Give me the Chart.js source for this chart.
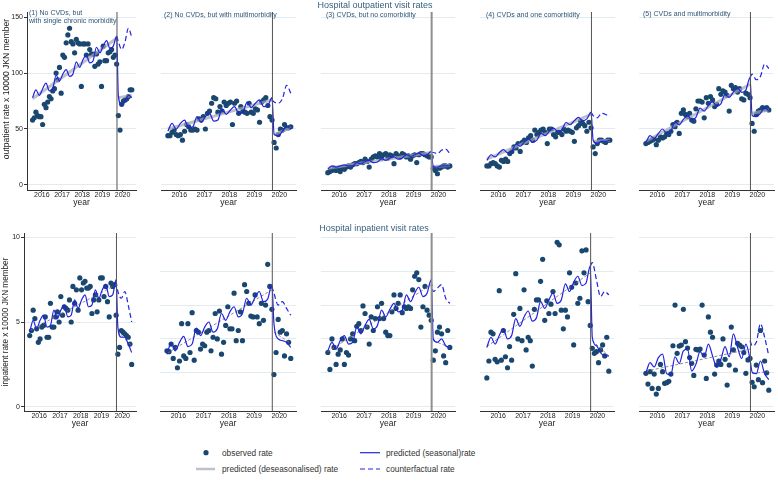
<!DOCTYPE html>
<html><head><meta charset="utf-8">
<script src="https://cdn.jsdelivr.net/npm/chart.js@4"></script>
<style>
body{margin:0;width:778px;height:483px;background:#fff;position:relative;overflow:hidden;font-family:"Liberation Sans",Arial,sans-serif}
canvas{position:absolute}
.t{position:absolute;white-space:nowrap;line-height:1}
svg{position:absolute}
</style></head><body>
<script>
// ---------------- DATA ----------------
const yearTicks = ['2016','2017','2018','2019','2020'];
const outTicks = [0,50,100,150];
const inTicksLabeled = [0,5,10];
const inGrid = [0,2,4,6,8,10];
const seasMonths = [0,2,4,6,8,10,12,14,16,18,20,22,24,26,28,30,32,34,36,38,40,42,44,46,48,50,51,53,55,57,59];
const cfMonths = [50,51,53,55,57,59];
const trendMonths = [0,50,51,59];
const breakMonth = 50.2;

// Outpatient (1) No CVDs, single chronic morbidity
const out1Obs = [58,60,65,62,61,61,54,72,69,74,79,77,84,86,100,94,105,82,116,114,127,134,140,128,126,118,130,127,126,88,126,126,116,126,121,117,117,106,117,108,110,88,124,111,111,118,119,121,114,116,108,62,49,72,75,76,77,79,85,85];
const out1Seas = [78,85,80,86,91,84,86,98,93,99,103,97,99,110,105,112,116,109,111,123,118,124,129,122,124,133,80,71,75,80,78];
const out1Cf = [133,128,121,128,140,132];
const out1Trend = [77,131,78,80];
// Outpatient (2) No CVDs, multimorbidity
const out2Obs = [44,44,47,49,45,44,45,40,48,54,52,49,49,50,49,59,58,61,50,64,66,73,78,77,65,70,66,74,71,73,74,54,73,75,64,70,66,65,64,73,65,64,68,67,56,74,76,78,71,61,58,38,33,45,50,49,54,51,51,52];
const out2Seas = [48,55,50,55,58,51,52,61,56,61,64,57,58,68,63,67,70,64,65,74,69,73,76,70,71,78,45,44,48,52,50];
const out2Cf = [76,74,73,77,89,82];
const out2Trend = [50,76,45,51];
// Outpatient (3) CVDs, no comorbidity
const out3Obs = [11,12,13,15,13,14,12,15,14,16,17,16,18,19,19,20,21,20,23,21,16,23,25,26,25,28,24,27,28,24,27,26,19,28,26,25,28,27,25,26,23,26,27,20,27,28,28,27,26,25,25,15,13,10,15,16,17,17,16,17];
const out3Seas = [14,17,16,17,18,17,17,20,19,21,22,20,20.5,23.5,22,24,25,23,24,27,25.5,27,28.5,26.5,27,30,16,16,17,17,17];
const out3Cf = [29,29,28,31,32,28];
const out3Trend = [15,29,16.5,17.4];
// Outpatient (4) CVDs and one comorbidity
const out4Obs = [17,17,19,20,19,17,16,22,21,23,21,28,30,34,33,37,30,38,40,38,42,44,40,49,45,47,49,50,47,37,50,50,45,43,47,47,45,50,48,49,48,47,39,51,53,57,55,53,48,56,51,34,28,37,40,40,39,38,40,40];
const out4Seas = [22,27,25,29,31.5,28.6,30,36.6,34.6,38.3,41,38,40,46,44,48,50.7,47.8,49.4,55.8,53.8,57.5,60.3,57.4,59,65,40,37,39,39,40];
const out4Cf = [65,62,60,64,63,61];
const out4Trend = [23,63,39,40];
// Outpatient (5) CVDs and multimorbidity
const out5Obs = [37,38,39,40,41,36,40,43,42,43,46,45,48,54,52,56,46,64,67,63,61,64,58,57,68,75,75,74,60,78,73,79,76,70,72,86,81,84,83,80,66,89,86,87,83,86,77,76,82,81,78,55,48,63,66,67,69,68,69,67];
const out5Seas = [38,44,41.5,46,50,46,48,56.5,53.7,58.6,62.2,58.2,60.3,68.7,66,70.8,74.4,70.5,72.5,81,78.2,83,86.7,82.7,84.8,96,62,61,64,69,66];
const out5Cf = [96,99,94,97,108,104];
const out5Trend = [39,90,64,67];

// Inpatient (1)
const in1Obs = [4.2,4.5,5.7,5.2,4.6,3.8,4.0,4.7,4.8,5.3,4.1,4.1,6.1,4.7,4.7,5.3,5.6,5.0,6.5,5.4,5.9,5.8,5.7,6.3,5.0,7.1,6.1,6.9,5.7,7.6,6.9,7.3,7.4,7.0,7.0,7.1,5.5,6.3,6.6,5.6,6.3,7.6,7.6,6.5,7.1,6.2,5.3,7.3,7.1,7.2,5.4,3.1,3.5,4.5,4.4,4.3,4.2,4.1,3.7,2.5];
const in1Seas = [4.4,5.1,4.6,5.1,5.4,4.7,4.8,5.7,5.2,5.7,6.0,5.3,5.4,6.3,5.8,6.3,6.6,5.9,6.0,6.9,6.4,6.9,7.2,6.5,6.6,7.5,4.7,4.1,4.1,3.7,3.2];
const in1Cf = [7.4,6.8,6.4,6.8,6.0,5.0];
const in1Trend = [4.5,7.2,4.4,3.6];
// Inpatient (2)
const in2Obs = [3.3,3.25,3.7,2.85,3.5,2.3,2.7,4.9,3.0,2.85,4.9,3.2,5.55,2.75,4.5,4.4,3.4,3.7,3.6,4.4,4.5,3.3,4.1,5.5,4.0,5.65,3.1,3.8,4.8,5.9,4.6,4.6,6.7,3.9,4.5,5.6,3.9,7.2,6.8,6.1,5.35,5.3,6.6,5.3,4.9,6.1,5.1,6.0,8.4,7.1,5.75,1.9,3.2,5.15,4.4,4.5,3.0,4.3,3.8,2.85];
const in2Seas = [3.1,3.75,3.3,3.8,4.15,3.55,3.7,4.64,4.2,4.7,5.0,4.4,4.6,5.5,5.1,5.6,5.9,5.3,5.5,6.4,6.0,6.45,6.8,6.2,6.35,7.2,4.9,4.0,3.9,3.8,3.5];
const in2Cf = [7.1,6.7,6.0,6.2,5.8,5.4];
const in2Trend = [3.15,6.9,4.4,3.75];
// Inpatient (3)
const in3Obs = [3.2,2.2,4.0,3.5,2.5,3.1,3.35,4.0,2.5,3.2,3.05,4.0,4.3,3.9,4.75,4.9,4.5,5.95,5.5,4.7,3.7,5.3,4.5,5.2,5.9,5.2,6.1,5.2,4.4,4.2,4.2,5.6,6.6,5.8,6.1,6.6,5.55,5.9,5.8,5.9,5.8,6.9,7.7,7.9,7.5,4.7,5.9,7.1,5.7,5.4,5.1,2.75,3.3,4.4,4.7,4.3,3.0,2.6,4.5,3.5];
const in3Seas = [3.3,3.8,3.4,3.9,4.2,3.7,3.8,4.7,4.3,4.8,5.15,4.6,4.8,5.7,5.3,5.75,6.1,5.6,5.7,6.6,6.2,6.7,7.05,6.5,6.7,7.5,4.0,3.8,4.0,3.6,3.5];
const in3Cf = [7.4,6.8,7.0,7.2,6.4,6.1];
const in3Trend = [3.25,7.2,3.9,3.5];
// Inpatient (4)
const in4Obs = [1.7,2.7,4.4,4.3,2.8,2.65,6.85,2.75,4.5,2.95,2.3,3.55,2.75,5.45,7.85,4.0,5.8,3.9,6.9,3.35,4.1,3.9,2.4,5.75,6.3,6.3,7.4,8.7,5.1,6.25,5.5,6.05,6.8,5.5,9.7,9.55,5.7,4.6,5.7,5.3,7.9,7.05,3.65,7.3,6.1,6.4,9.2,7.9,9.25,6.2,4.8,3.45,3.15,3.25,2.6,3.35,3.65,3.0,4.1,2.1];
const in4Seas = [3.5,4.1,3.7,4.2,4.6,4.0,4.2,5.2,4.75,5.3,5.65,5.05,5.25,6.2,5.8,6.3,6.7,6.1,6.3,7.25,6.8,7.35,7.7,7.15,7.3,8.3,4.1,3.6,3.2,3.0,3.0];
const in4Cf = [8.3,8.5,7.5,6.5,6.8,6.6];
const in4Trend = [3.55,7.9,3.9,3.0];
// Inpatient (5)
const in5Obs = [1.97,1.34,2.07,1.08,1.93,0.75,1.08,2.5,2.07,1.38,1.42,1.5,1.93,3.6,6.0,3.15,3.58,3.64,5.75,3.84,3.46,2.9,2.56,1.85,3.39,3.35,3.4,6.0,3.05,1.67,5.3,4.4,4.1,1.93,2.46,2.7,2.5,4.0,2.8,1.28,2.46,4.7,3.35,2.17,3.74,3.64,3.54,3.2,1.97,2.76,2.85,1.44,1.18,2.46,1.6,4.5,1.42,2.7,2.0,0.98];
const in5Seas = [2.0,2.6,2.35,2.9,3.1,1.95,1.9,2.95,2.55,3.3,3.4,2.1,2.5,3.25,2.95,3.7,3.0,2.35,2.8,3.55,2.95,4.3,3.5,2.85,3.7,2.8,2.05,1.95,2.7,1.95,1.6];
const in5Cf = [3.9,3.6,3.8,4.9,4.1,3.0];
const in5Trend = [2.1,3.4,1.97,2.07];

// ---------------- LAYOUT / STYLE ----------------
const FONT = '"Liberation Sans", Arial, sans-serif';
const NAVY = '#1a476f', BLUE = '#2323e0';
const panels = [
  {obs:out1Obs, seas:out1Seas, cf:out1Cf, trend:out1Trend, row:0, L:27,  R:140, axis:true},
  {obs:out2Obs, seas:out2Seas, cf:out2Cf, trend:out2Trend, row:0, L:157, R:300},
  {obs:out3Obs, seas:out3Seas, cf:out3Cf, trend:out3Trend, row:0, L:317, R:459, thickV:true},
  {obs:out4Obs, seas:out4Seas, cf:out4Cf, trend:out4Trend, row:0, L:476, R:619},
  {obs:out5Obs, seas:out5Seas, cf:out5Cf, trend:out5Trend, row:0, L:635, R:778},
  {obs:in1Obs, seas:in1Seas, cf:in1Cf, trend:in1Trend, row:1, L:24,  R:140, axis:true},
  {obs:in2Obs, seas:in2Seas, cf:in2Cf, trend:in2Trend, row:1, L:156, R:300},
  {obs:in3Obs, seas:in3Seas, cf:in3Cf, trend:in3Trend, row:1, L:317, R:459, thickV:true},
  {obs:in4Obs, seas:in4Seas, cf:in4Cf, trend:in4Trend, row:1, L:476, R:618},
  {obs:in5Obs, seas:in5Seas, cf:in5Cf, trend:in5Trend, row:1, L:635, R:778}
];

panels.forEach(p => {
  const top = p.row ? 233 : 12, bot = p.row ? 411 : 190;
  const ymin = p.row ? -0.25 : -4.5, ymax = p.row ? 10.25 : 154.5;
  const yw = p.axis ? p.L : 0;
  const tp = 12, xh = 24;
  const cw = yw + (p.R - p.L), ch = tp + (bot - top) + xh;
  const cv = document.createElement('canvas');
  cv.width = cw; cv.height = ch;
  cv.style.left = (p.L - yw) + 'px'; cv.style.top = (top - tp) + 'px';
  cv.style.width = cw + 'px'; cv.style.height = ch + 'px';
  document.body.appendChild(cv);

  const obsData = p.obs.map((v, i) => ({x: i, y: v}));
  const seasData = seasMonths.map((m, i) => ({x: m, y: p.seas[i]}));
  const cfData = cfMonths.map((m, i) => ({x: m, y: p.cf[i]}));
  const trendData = [
    {x: trendMonths[0], y: p.trend[0]}, {x: trendMonths[1], y: p.trend[1]},
    {x: breakMonth, y: null},
    {x: trendMonths[2], y: p.trend[2]}, {x: trendMonths[3], y: p.trend[3]}
  ];
  const gridVals = p.row ? (p.axis ? inTicksLabeled : inGrid) : outTicks;
  const trendStyle = p.row
    ? {borderColor: 'rgba(120,120,130,0.85)', borderWidth: 1, borderDash: [3, 2]}
    : {borderColor: 'rgba(160,166,180,0.7)', borderWidth: 3, borderDash: []};

  new Chart(cv, {
    type: 'line',
    data: {
      datasets: [
        {data: [{x: breakMonth, y: ymin}, {x: breakMonth, y: ymax}], borderColor: p.thickV ? '#8e8e8e' : '#555', borderWidth: p.thickV ? 2 : 1, pointRadius: 0, order: 0},
        {data: seasData, borderColor: BLUE, borderWidth: 1.2, pointRadius: 0, cubicInterpolationMode: 'monotone', order: 1},
        {data: cfData, borderColor: BLUE, borderWidth: 1.2, borderDash: [5, 3], pointRadius: 0, cubicInterpolationMode: 'monotone', order: 1},
        Object.assign({data: trendData, pointRadius: 0, tension: 0, spanGaps: false, order: 2}, trendStyle),
        {data: obsData, showLine: false, pointRadius: 2.6, pointBackgroundColor: NAVY, pointBorderWidth: 0, order: 3}
      ]
    },
    options: {
      responsive: false, animation: false, devicePixelRatio: 1, events: [],
      layout: {padding: {top: tp, left: 0, right: 0, bottom: 0}},
      plugins: {legend: {display: false}, tooltip: {enabled: false}},
      scales: {
        x: {
          type: 'linear', min: -3.3, max: 61.5,
          afterFit: s => { s.height = xh; },
          afterBuildTicks: s => { s.ticks = yearTicks.map((t, i) => ({value: 5.5 + 12 * i})); },
          ticks: {autoSkip: false, maxRotation: 0, padding: -1, color: '#222', font: {family: FONT, size: 7},
                  callback: (v, i) => yearTicks[i]},
          grid: {drawOnChartArea: false, drawTicks: true, tickLength: 2, tickColor: '#333'},
          border: {display: true, color: '#333', width: 1},
          title: {display: true, text: 'year', color: '#222', font: {family: FONT, size: 8.5}, padding: {top: 0, bottom: 6.6}}
        },
        y: {
          type: 'linear', min: ymin, max: ymax,
          afterFit: s => { s.width = yw; },
          afterBuildTicks: s => { s.ticks = gridVals.map(v => ({value: v})); },
          ticks: {display: !!p.axis, autoSkip: false, padding: 1, color: '#222', font: {family: FONT, size: 7}},
          grid: {color: '#e2ebef', lineWidth: 1, drawTicks: !!p.axis, tickLength: 3, tickColor: '#333'},
          border: {display: !!p.axis, color: '#333', width: 1}
        }
      }
    }
  });
});

// ---------------- TEXT ----------------
function txt(s, x, y, size, color, mode) {
  const d = document.createElement('div');
  d.className = 't'; d.textContent = s;
  d.style.left = x + 'px'; d.style.top = y + 'px';
  d.style.fontSize = size + 'px'; d.style.color = color;
  if (mode === 'c') d.style.transform = 'translate(-50%,-50%)';
  else if (mode === 'r') d.style.transform = 'translate(-50%,-50%) rotate(-90deg)';
  else d.style.transform = 'translateY(-50%)';
  document.body.appendChild(d);
}
const TC = '#36607f', SC = '#2c5576';
txt('Hospital outpatient visit rates', 375, 4.8, 9, TC, 'c');
txt('Hospital inpatient visit rates', 374, 228.3, 9, TC, 'c');
txt('(1) No CVDs, but', 29, 12, 7, SC);
txt('with single chronic morbidity', 29, 19.8, 7, SC);
txt('(2) No CVDs, but with multimorbidity', 164, 14, 7, SC);
txt('(3) CVDs, but no comorbidity', 326, 14, 7, SC);
txt('(4) CVDs and one comorbidity', 486, 14, 7, SC);
txt('(5) CVDs and multimorbidity', 643, 13.3, 7, SC);
txt('outpatient rate x 10000 JKN member', 5.5, 89, 8.6, '#222', 'r');
txt('inpatient rate x 10000 JKN member', 5.5, 322, 8.2, '#222', 'r');

// legend
txt('observed rate', 222, 452.7, 8.3, '#333');
txt('predicted (deseasonalised) rate', 222, 469, 8.3, '#333');
txt('predicted (seasonal)rate', 386, 452.7, 8.3, '#333');
txt('counterfactual rate', 386, 469, 8.3, '#333');
const svgNS = 'http://www.w3.org/2000/svg';
const sv = document.createElementNS(svgNS, 'svg');
sv.setAttribute('width', '778'); sv.setAttribute('height', '483');
sv.style.left = '0px'; sv.style.top = '0px';
sv.innerHTML =
  '<circle cx="206" cy="452.7" r="2.6" fill="' + NAVY + '"/>' +
  '<line x1="196" y1="469" x2="215" y2="469" stroke="rgba(160,166,180,0.7)" stroke-width="2.5"/>' +
  '<line x1="360" y1="452.7" x2="380" y2="452.7" stroke="' + BLUE + '" stroke-width="1.2"/>' +
  '<line x1="360" y1="469" x2="380" y2="469" stroke="' + BLUE + '" stroke-width="1.2" stroke-dasharray="5,3"/>';
document.body.appendChild(sv);
</script>
</body></html>
